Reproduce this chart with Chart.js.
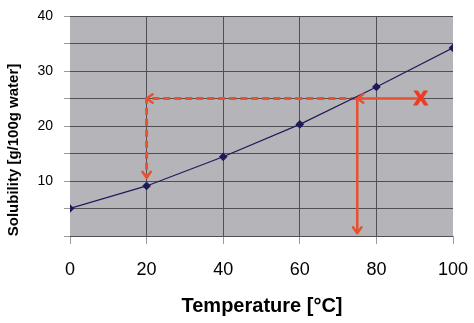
<!DOCTYPE html>
<html>
<head>
<meta charset="utf-8">
<script src="https://cdn.jsdelivr.net/npm/chart.js@4"></script>
<style>
html,body{margin:0;padding:0;background:#fff;}
#wrap{width:474px;height:323px;position:relative;}
</style>
</head>
<body>
<div id="wrap"><canvas id="c"></canvas></div>
<script>
// ---- data ----
const temperatures = [0, 20, 40, 60, 80, 100];
const solubility = [5, 9.1, 14.4, 20.3, 27.1, 34.2];
const xTickValues = [0, 20, 40, 60, 80, 100];
const yTickLabels = [10, 20, 30, 40];
// annotation: reading solubility 25 -> temperature 75 (solid), and 25 at 20°C (dashed)
const readPathSolidX = [91.5, 75, 75];
const readPathSolidY = [25, 25, 0.5];
const readPathDashedX = [75, 20, 20];
const readPathDashedY = [25, 25, 10.6];
const markerLabel = 'X';
const markerPos = [91.6, 25];

const RED = '#E8502F';
const NAVY = '#1E1A5A';
const FONT = "'Liberation Sans', Arial, sans-serif";

const toPts = (xs, ys) => xs.map((x, i) => ({x: x, y: ys[i]}));

const arrows = [
  {x: readPathDashedX[1], y: readPathDashedY[1], dir: 'left'},
  {x: readPathDashedX[2], y: readPathDashedY[2], dir: 'down'},
  {x: readPathSolidX[1], y: readPathSolidY[1], dir: 'left'},
  {x: readPathSolidX[2], y: readPathSolidY[2], dir: 'down'}
];

const bgPlugin = {
  id: 'bg',
  beforeDraw(chart) {
    const {ctx, chartArea: a} = chart;
    ctx.save();
    ctx.fillStyle = '#fff';
    ctx.fillRect(0, 0, chart.width, chart.height);
    ctx.fillStyle = '#B5B5B9';
    ctx.fillRect(a.left, a.top, a.right - a.left, a.bottom - a.top);
    ctx.restore();
  }
};

const annoPlugin = {
  id: 'anno',
  afterDatasetsDraw(chart) {
    const {ctx, scales: {x, y}} = chart;
    ctx.save();
    ctx.strokeStyle = RED;
    ctx.lineWidth = 2.5;
    ctx.lineCap = 'round';
    ctx.lineJoin = 'round';
    const s = 6;
    arrows.forEach(a => {
      const px = x.getPixelForValue(a.x);
      const py = y.getPixelForValue(a.y);
      ctx.beginPath();
      if (a.dir === 'left') {
        ctx.moveTo(px + s, py - s * 0.7);
        ctx.lineTo(px, py);
        ctx.lineTo(px + s, py + s * 0.7);
      } else {
        ctx.moveTo(px - s * 0.7, py - s);
        ctx.lineTo(px, py);
        ctx.lineTo(px + s * 0.7, py - s);
      }
      ctx.stroke();
    });
    ctx.fillStyle = '#EE3A24';
    ctx.strokeStyle = '#EE3A24';
    ctx.lineWidth = 1.2;
    ctx.font = 'bold 21px ' + FONT;
    ctx.textAlign = 'center';
    ctx.textBaseline = 'middle';
    const mx = x.getPixelForValue(markerPos[0]);
    const my = y.getPixelForValue(markerPos[1]) + 1;
    ctx.fillText(markerLabel, mx, my);
    ctx.strokeText(markerLabel, mx, my);
    ctx.restore();
  },
  afterDraw(chart) {
    const {ctx} = chart;
    ctx.save();
    ctx.fillStyle = '#000';
    ctx.font = 'bold 20px ' + FONT;
    ctx.textAlign = 'center';
    ctx.textBaseline = 'alphabetic';
    ctx.fillText('Temperature [°C]', 262, 312);
    ctx.translate(14, 150);
    ctx.rotate(-Math.PI / 2);
    ctx.font = 'bold 15px ' + FONT;
    ctx.textBaseline = 'middle';
    ctx.fillText('Solubility [g/100g water]', 0, 0);
    ctx.restore();
  }
};

new Chart(document.getElementById('c'), {
  type: 'line',
  data: {
    datasets: [
      {
        label: 'Solubility',
        data: toPts(temperatures, solubility),
        borderColor: NAVY,
        backgroundColor: NAVY,
        borderWidth: 1.2,
        pointStyle: 'rectRot',
        pointRadius: 3.5,
        pointHoverRadius: 3.5,
        order: 0
      },
      {
        label: 'dashed',
        data: toPts(readPathDashedX, readPathDashedY),
        borderColor: RED,
        borderWidth: 3,
        borderDash: [7, 4],
        pointRadius: 0,
        order: 1
      },
      {
        label: 'solid',
        data: toPts(readPathSolidX, readPathSolidY),
        borderColor: RED,
        borderWidth: 2.5,
        pointRadius: 0,
        order: 1
      }
    ]
  },
  options: {
    responsive: true,
    maintainAspectRatio: false,
    animation: false,
    layout: {padding: {left: 0, top: 16, right: 21, bottom: 0}},
    plugins: {legend: {display: false}, tooltip: {enabled: false}},
    scales: {
      x: {
        type: 'linear',
        min: 0, max: 100,
        afterBuildTicks(scale) { scale.ticks = xTickValues.map(v => ({value: v})); },
        afterFit(scale) { scale.height = 87; scale.paddingLeft = 0; scale.paddingRight = 0; },
        ticks: {
          color: '#000',
          font: {family: FONT, size: 18},
          padding: 15,
          maxRotation: 0
        },
        grid: {
          color: ctx => (ctx.tick && (ctx.tick.value === 0 || ctx.tick.value === 100)) ? 'rgba(0,0,0,0)' : '#505054',
          tickColor: '#9a9a9a',
          tickLength: 8,
          lineWidth: 1
        },
        border: {display: false}
      },
      y: {
        type: 'linear',
        min: 0, max: 40,
        ticks: {
          stepSize: 5,
          color: '#000',
          font: {family: FONT, size: 14},
          padding: 11,
          callback: v => yTickLabels.includes(v) ? String(v) : ''
        },
        afterFit(scale) { scale.width = 70; scale.paddingTop = 0; scale.paddingBottom = 0; },
        grid: {
          color: '#505054',
          tickColor: '#9a9a9a',
          tickLength: 6,
          lineWidth: 1
        },
        border: {display: false}
      }
    }
  },
  plugins: [bgPlugin, annoPlugin]
});
</script>
</body>
</html>
